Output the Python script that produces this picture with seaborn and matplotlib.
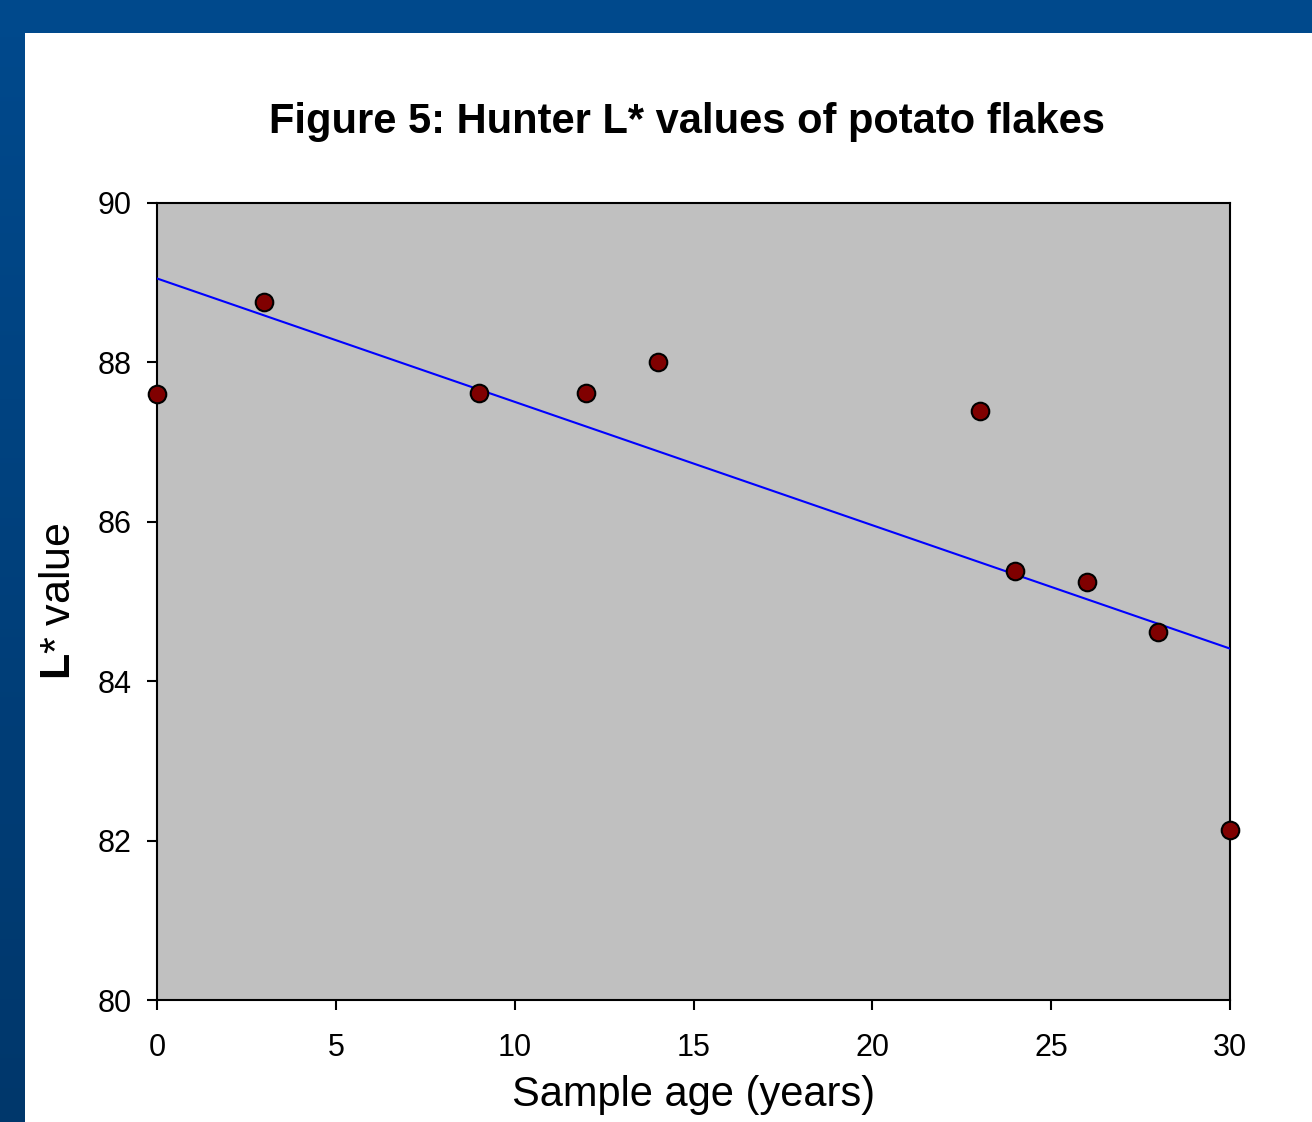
import numpy as np
import pandas as pd
import seaborn as sns
import matplotlib.pyplot as plt
from matplotlib.patches import Rectangle
from matplotlib.colors import LinearSegmentedColormap

# sample age (years) and Hunter L* readings
age = [0, 3, 9, 12, 14, 23, 24, 26, 28, 30]
l_value = [87.6, 88.76, 87.62, 87.62, 88.01, 87.39, 85.38, 85.24, 84.62, 82.13]
x_ticks = [0, 5, 10, 15, 20, 25, 30]
y_ticks = [80, 82, 84, 86, 88, 90]

df = pd.DataFrame({'age': age, 'L': l_value})

sns.set_style('ticks')
plt.rcParams['font.family'] = ['Liberation Sans', 'DejaVu Sans']
plt.rcParams['text.color'] = 'black'
plt.rcParams['axes.labelcolor'] = 'black'
plt.rcParams['mathtext.fontset'] = 'custom'
plt.rcParams['mathtext.rm'] = 'Liberation Sans'
plt.rcParams['mathtext.bf'] = 'Liberation Sans:bold'

W, H = 1312, 1122
fig = plt.figure(figsize=(W / 100, H / 100), dpi=100)
fig.patch.set_facecolor('white')

# blue slide frame: top band and left gradient band
fig.patches.append(Rectangle((0, 1 - 33 / H), 1, 33 / H, transform=fig.transFigure,
                             facecolor='#00498c', edgecolor='none', zorder=0))
bar = fig.add_axes([0, 0, 25 / W, 1 - 33 / H])
grad = np.linspace(0, 1, 256).reshape(-1, 1)
cm = LinearSegmentedColormap.from_list('side', ['#00498c', '#00376b'])
bar.imshow(grad, aspect='auto', cmap=cm)
bar.set_axis_off()

ax = fig.add_axes([157 / W, 1 - 1000 / H, (1230 - 157) / W, (1000 - 203) / H])
ax.set_facecolor('#c0c0c0')

sns.regplot(data=df, x='age', y='L', ax=ax, ci=None, truncate=True,
            scatter_kws=dict(s=160, color='#800000', edgecolor='black', linewidths=1.5,
                             alpha=1, clip_on=False, zorder=4),
            line_kws=dict(color='#0000ff', lw=1.5, zorder=3))

ax.set_xlim(0, 30)
ax.set_ylim(80, 90)
ax.set_xticks(x_ticks)
ax.set_yticks(y_ticks)
for s in ax.spines.values():
    s.set_color('black')
    s.set_linewidth(1.5)
ax.tick_params(axis='both', direction='out', length=7.5, width=1.5, colors='black',
               labelsize=22)
ax.tick_params(axis='x', pad=16)
ax.tick_params(axis='y', pad=11)

ax.set_xlabel('Sample age (years)', fontsize=30, labelpad=9)
ax.set_ylabel(r'$\mathbf{L}$* value', fontsize=31, labelpad=13)

fig.text(687 / W, 1 - 122 / H, 'Figure 5: Hunter L* values of potato flakes',
         ha='center', va='center', fontsize=30, fontweight='bold')

fig.savefig('out.png', dpi=100)
